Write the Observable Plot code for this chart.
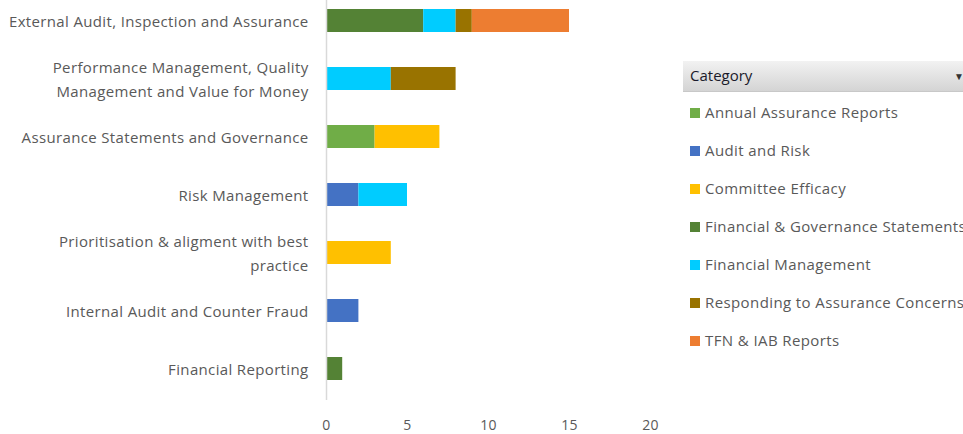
<!DOCTYPE html>
<html>
<head>
<meta charset="utf-8">
<script src="https://cdn.jsdelivr.net/npm/d3@7"></script>
<script src="https://cdn.jsdelivr.net/npm/@observablehq/plot@0.6"></script>
<style>
  html, body { margin: 0; padding: 0; background: #fff; overflow: hidden; }
  #wrap { position: relative; width: 963px; height: 434px; overflow: hidden; font-family: "Open Sans", sans-serif; }
  #legend { position: absolute; left: 683px; top: 61px; width: 300px; }
  #legend .head { height: 30px; background: linear-gradient(#f2f2f2, #d4d4d4); border-bottom: 1px solid #c8c8c8; position: relative; }
  #legend .head span.t { position: absolute; left: 7px; top: 4px; font-size: 15px; color: #1a1a2a; }
  #legend .head span.a { position: absolute; left: 271px; top: 8px; font-size: 10px; color: #333; }
  #legend .item { position: absolute; left: 7px; height: 20px; font-size: 15px; letter-spacing: 0.4px; color: #595959; white-space: nowrap; }
  #legend .sw { display: inline-block; width: 10px; height: 10px; margin-right: 5px; vertical-align: 0px; }
</style>
</head>
<body>
<div id="wrap">
  <div id="chart"></div>
  <div id="legend"></div>
</div>
<script>
const rows = [
  "External Audit, Inspection and Assurance",
  "Performance Management, Quality Management and Value for Money",
  "Assurance Statements and Governance",
  "Risk Management",
  "Prioritisation & aligment with best practice",
  "Internal Audit and Counter Fraud",
  "Financial Reporting"
];
const rowLabels = [
  "External Audit, Inspection and Assurance",
  "Performance Management, Quality\nManagement and Value for Money",
  "Assurance Statements and Governance",
  "Risk Management",
  "Prioritisation & aligment with best\npractice",
  "Internal Audit and Counter Fraud",
  "Financial Reporting"
];
const series = [
  "Annual Assurance Reports",
  "Audit and Risk",
  "Committee Efficacy",
  "Financial & Governance Statements",
  "Financial Management",
  "Responding to Assurance Concerns",
  "TFN & IAB Reports"
];
const colors = ["#70AD47", "#4472C4", "#FFC000", "#548235", "#00CCFF", "#997300", "#ED7D31"];
const annualAssurance = [0, 0, 3, 0, 0, 0, 0];
const auditRisk       = [0, 0, 0, 2, 0, 2, 0];
const committee       = [0, 0, 4, 0, 4, 0, 0];
const finGov          = [6, 0, 0, 0, 0, 0, 1];
const finMgmt         = [2, 4, 0, 3, 0, 0, 0];
const responding      = [1, 4, 0, 0, 0, 0, 0];
const tfn             = [6, 0, 0, 0, 0, 0, 0];
const xTicks = [0, 5, 10, 15, 20];

const seriesValues = [annualAssurance, auditRisk, committee, finGov, finMgmt, responding, tfn];
const data = [];
seriesValues.forEach((vals, si) => {
  vals.forEach((v, ri) => {
    if (v > 0) data.push({row: rows[ri], series: series[si], value: v});
  });
});
const labelOf = new Map(rows.map((r, i) => [r, rowLabels[i]]));

const chart = Plot.plot({
  width: 963,
  height: 434,
  marginLeft: 326,
  marginRight: 313,
  marginTop: 0,
  marginBottom: 34,
  style: {fontFamily: "Open Sans, sans-serif", fontSize: "15px", letterSpacing: "0.35px", color: "#595959", background: "#fff"},
  x: {domain: [0, 20], ticks: xTicks},
  y: {domain: rows, range: [-10, 399], paddingInner: 0.6, paddingOuter: 0.3},
  color: {domain: series, range: colors},
  marks: [
    Plot.barX(data, Plot.stackX({y: "row", x: "value", fill: "series", order: series})),
    Plot.ruleX([0], {stroke: "#d9d9d9", strokeWidth: 1.5}),
    Plot.axisX({ticks: xTicks, tickSize: 0, tickPadding: 20, label: null, fill: "#595959", fontSize: 14}),
    Plot.axisY({tickSize: 0, tickPadding: 18, label: null, fill: "#595959", fontSize: 15, lineHeight: 1.6, dy: -2,
      tickFormat: d => labelOf.get(d)})
  ]
});
document.getElementById("chart").appendChild(chart);

const legend = document.getElementById("legend");
const head = document.createElement("div");
head.className = "head";
head.innerHTML = '<span class="t">Category</span><span class="a">&#9660;</span>';
legend.appendChild(head);
series.forEach((s, i) => {
  const it = document.createElement("div");
  it.className = "item";
  it.style.top = (41 + 38 * i) + "px";
  const sw = document.createElement("span");
  sw.className = "sw";
  sw.style.background = colors[i];
  it.appendChild(sw);
  it.appendChild(document.createTextNode(s));
  legend.appendChild(it);
});
</script>
</body>
</html>
